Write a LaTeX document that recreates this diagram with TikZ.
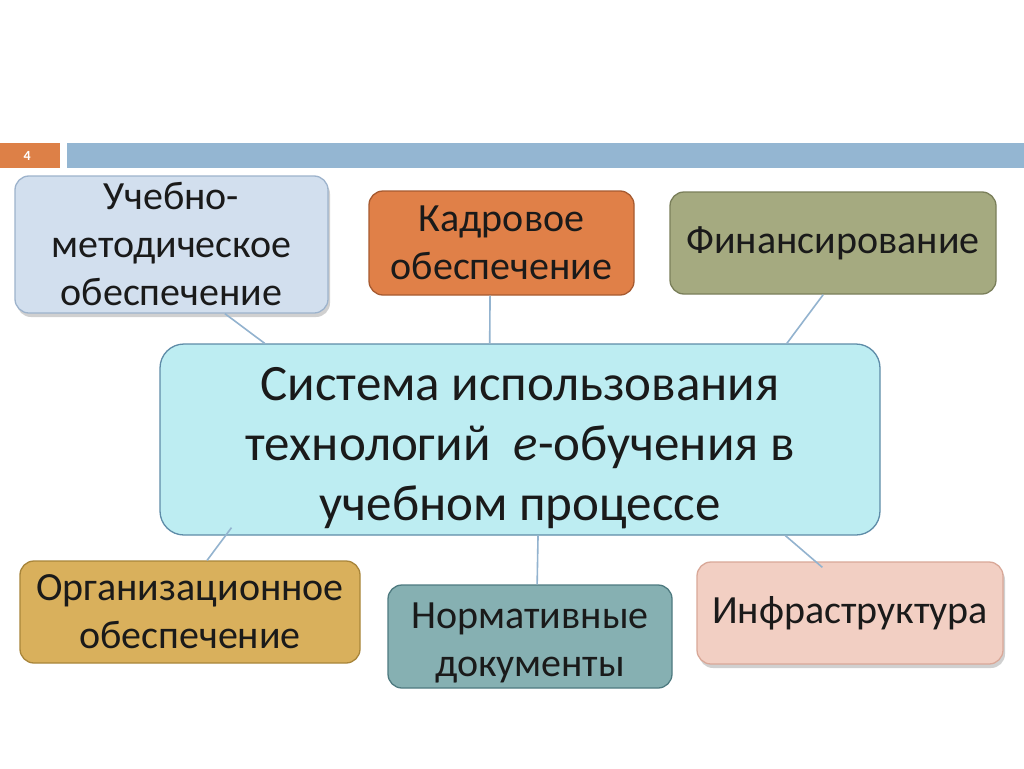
\documentclass[tikz,border=0pt]{standalone}
\usepackage{fontspec}
\setmainfont{Carlito}
\usetikzlibrary{calc,shadows}
\definecolor{hdrorange}{HTML}{DD8047}
\definecolor{hdrblue}{HTML}{94B6D2}
\definecolor{linkc}{HTML}{93B3CF}
\definecolor{txt}{HTML}{1A1A1A}
\definecolor{f1}{HTML}{D2DFEE}\definecolor{d1}{HTML}{9DB3CC}
\definecolor{f2}{HTML}{E08048}\definecolor{d2}{HTML}{A65A30}
\definecolor{f3}{HTML}{A5AA80}\definecolor{d3}{HTML}{7A7F5A}
\definecolor{fc}{HTML}{BDEDF2}\definecolor{dc}{HTML}{5E8CA8}
\definecolor{f5}{HTML}{D9B05C}\definecolor{d5}{HTML}{A8853A}
\definecolor{f6}{HTML}{86B0B2}\definecolor{d6}{HTML}{4E7A80}
\definecolor{f7}{HTML}{F2CFC3}\definecolor{d7}{HTML}{D9A898}
\tikzset{
  box/.style={rounded corners=14pt, line width=1.3pt, align=center, inner sep=0pt,
    text=txt, font=\fontsize{40}{48}\selectfont},
  link/.style={draw=linkc, line width=1.6pt},
  shad/.style={drop shadow={shadow xshift=2pt, shadow yshift=-4pt, opacity=0.3, fill=black!60}}
}
\begin{document}
\begin{tikzpicture}[x=1pt,y=-1pt]
\useasboundingbox (0,0) rectangle (1024,768);
\fill[white] (0,0) rectangle (1024,768);
% header
\node[fill=hdrorange, minimum width=60pt, minimum height=25pt, inner sep=0pt, anchor=north west,
  text=white, font=\fontsize{14}{16}\selectfont\bfseries] (num) at (0,143) {\hspace*{-6pt}4};
\node[fill=hdrblue, minimum width=957pt, minimum height=25pt, inner sep=0pt, anchor=north west] (bar) at (67,143) {};
% nodes
\node[box, shad, fill=f1, draw=d1, minimum width=313pt, minimum height=137pt] (n1) at (171.5,244.5)
  {Учебно-\\методическое\\обеспечение};
\node[box, fill=f2, draw=d2, minimum width=265pt, minimum height=104pt] (n2) at (501.5,243)
  {Кадровое\\обеспечение};
\node[box, fill=f3, draw=d3, minimum width=326pt, minimum height=102pt] (n3) at (833,243)
  {Финансирование};
\node[box, fill=fc, draw=dc, rounded corners=24pt, minimum width=720pt, minimum height=191pt,
  font=\fontsize{51}{60}\selectfont] (c) at (520,439.5)
  {\rule{0pt}{50pt}Система использования\\технологий\ \ \textit{e}-обучения в\\учебном процессе};
\node[box, fill=f5, draw=d5, minimum width=340pt, minimum height=102pt] (n5) at (190,612)
  {Организационное\\обеспечение};
\node[box, fill=f6, draw=d6, minimum width=284pt, minimum height=103pt] (n6) at (530,636.5)
  {\rule{0pt}{38pt}Нормативные\\документы};
\node[box, shad, fill=f7, draw=d7, minimum width=306pt, minimum height=102pt] (n7) at (850,613)
  {Инфраструктура};
% connectors
\coordinate (a1) at ($(n1.south west)!0.67!(n1.south east)$);
\coordinate (b1) at ($(c.north west)!0.146!(c.north east)$);
\coordinate (a2) at ($(n2.south west)!0.457!(n2.south east)$);
\coordinate (b2) at ($(c.north west)!0.458!(c.north east)$);
\coordinate (a3) at ($(n3.south west)!0.47!(n3.south east)$);
\coordinate (b3) at ($(c.north west)!0.87!(c.north east)$);
\coordinate (a4) at ($(c.south west)!0.1!(c.south east)+(0,-8)$);
\coordinate (b4) at ($(n5.north west)!0.55!(n5.north east)$);
\coordinate (a5) at ($(c.south west)!0.525!(c.south east)$);
\coordinate (b5) at ($(n6.north west)!0.525!(n6.north east)$);
\coordinate (a6) at ($(c.south west)!0.868!(c.south east)$);
\coordinate (b6) at ($(n7.north west)!0.41!(n7.north east)+(0,6)$);
\draw[link] (a1) -- (b1);
\draw[link] (a2) -- (b2);
\draw[link] (a3) -- (b3);
\draw[link] (a4) -- (b4);
\draw[link] (a5) -- (b5);
\draw[link] (a6) -- (b6);
\end{tikzpicture}
\end{document}
